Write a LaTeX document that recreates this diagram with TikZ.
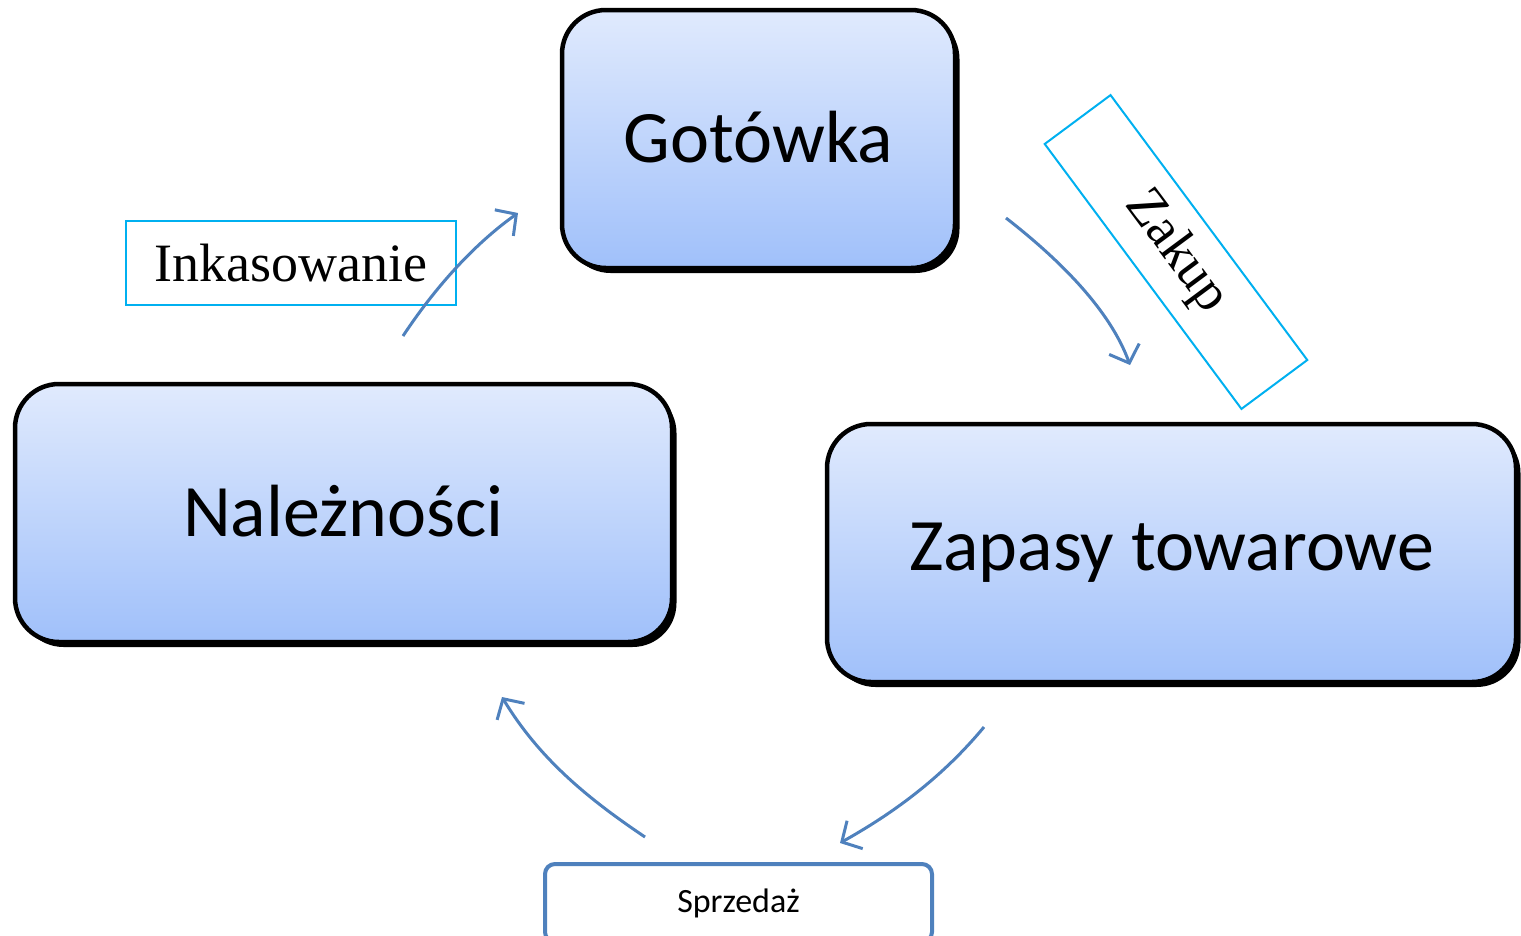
\documentclass[tikz,border=0pt]{standalone}
\usepackage{fontspec}
\setmainfont{Carlito}
\newfontfamily\lblfont{Liberation Serif}
\usetikzlibrary{arrows.meta}
\definecolor{topc}{RGB}{224,234,253}
\definecolor{botc}{RGB}{160,192,250}
\definecolor{arrc}{RGB}{79,129,189}
\definecolor{cyanc}{RGB}{0,176,240}
\tikzset{
  bigbox/.style={rectangle, rounded corners=44pt, draw=black, line width=4.5pt,
    top color=topc, bottom color=botc, inner sep=0pt,
    font=\fontsize{74}{80}\selectfont, text=black},
  shadowbox/.style={rectangle, rounded corners=44pt, fill=black, inner sep=0pt},
  lblbox/.style={rectangle, draw=cyanc, line width=2pt, fill=white, inner sep=0pt,
    font=\lblfont\fontsize{54}{60}\selectfont},
  salebox/.style={rectangle, rounded corners=10pt, draw=arrc, line width=4pt, fill=white,
    inner sep=0pt, font=\fontsize{34}{38}\selectfont},
  flow/.style={draw=arrc, line width=3pt, -{Straight Barb[length=15pt,width=32pt,line width=3pt]}}
}
\begin{document}
\begin{tikzpicture}[x=1pt,y=-1pt]
\useasboundingbox (0,0) rectangle (1521,935);
% shadows
\node[shadowbox, minimum width=393pt, minimum height=258pt] at (763,144) {};
\node[shadowbox, minimum width=657pt, minimum height=258pt] at (348,518) {};
\node[shadowbox, minimum width=689pt, minimum height=258pt] at (1176,558) {};
% main boxes
\node[bigbox, minimum width=393pt, minimum height=258pt] (got) at (758.5,139) {\raisebox{5pt}{Gotówka}};
\node[bigbox, minimum width=657pt, minimum height=258pt] (nal) at (343.5,513) {\raisebox{5pt}{Należności}};
\node[bigbox, minimum width=689pt, minimum height=258pt] (zap) at (1171.5,553) {Zapasy towarowe};
\node[salebox, minimum width=387pt, minimum height=78pt] (spr) at (738.5,903) {Sprzedaż};
% labels
\node[lblbox, minimum width=330pt, minimum height=84pt] (ink) at (291,263) {Inkasowanie};
\node[lblbox, minimum width=330pt, minimum height=82pt, rotate=-53.4] (zak) at (1176,252) {Zakup};
% arrows
\coordinate (a1s) at (403,336); \coordinate (a1e) at (518,213);
\coordinate (a2s) at (1006,218); \coordinate (a2e) at (1130,365);
\coordinate (a3s) at (984,727); \coordinate (a3e) at (840,843);
\coordinate (a4s) at (645,837); \coordinate (a4e) at (502,697);
\draw[flow] (a1s) .. controls (440,280) and (480,240) .. (a1e);
\draw[flow] (a2s) .. controls (1060,260) and (1110,310) .. (a2e);
\draw[flow] (a3s) .. controls (940,780) and (890,815) .. (a3e);
\draw[flow] (a4s) .. controls (590,800) and (540,760) .. (a4e);
\end{tikzpicture}
\end{document}
